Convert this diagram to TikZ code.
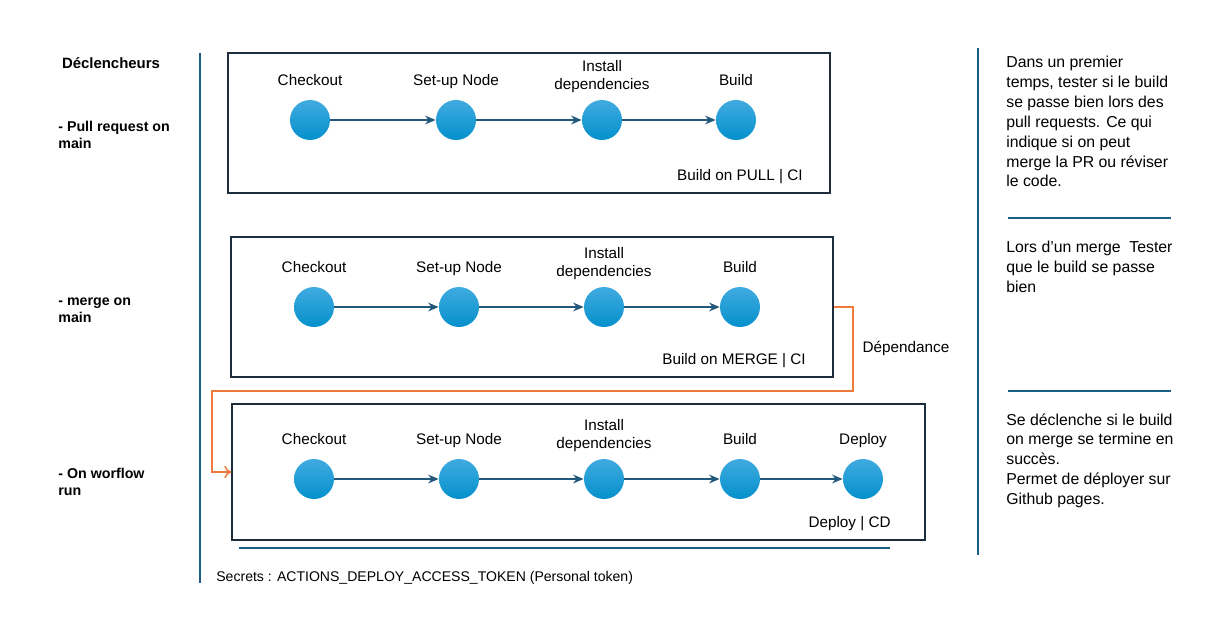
\documentclass[tikz,border=0pt]{standalone}
\usepackage{fontspec}
\setmainfont{Liberation Sans}
\usetikzlibrary{fit,arrows.meta}
\definecolor{lineblue}{HTML}{1B5E84}
\definecolor{arrowblue}{HTML}{22597A}
\definecolor{boxdark}{HTML}{1E2D3B}
\definecolor{dotlight}{HTML}{40ABE0}
\definecolor{dotdark}{HTML}{0590CB}
\definecolor{deporange}{HTML}{EE7B3E}

\begin{document}
\begin{tikzpicture}[x=0.02cm, y=-0.02cm,
  stage/.style={draw=boxdark, line width=0.8pt, inner sep=0pt},
  dot/.style={circle, minimum size=0.8cm, inner sep=0pt, top color=dotlight, bottom color=dotdark},
  lbl/.style={font=\fontsize{8.7}{10.5}\selectfont, inner sep=0pt, text depth=0.25em, align=center, label distance=5.3pt},
  lbltwo/.style={lbl, label distance=3pt},
  tag/.style={font=\fontsize{8.7}{10.5}\selectfont, inner sep=0pt, anchor=east},
  flow/.style={-{Stealth[length=6pt,width=5pt]}, arrowblue, line width=0.8pt},
  sep/.style={lineblue, line width=1.1pt},
  trig/.style={font=\bfseries\fontsize{8.1}{9.8}\selectfont, inner sep=0pt, align=left, anchor=north west},
  note/.style={font=\fontsize{9}{11.3}\selectfont, inner sep=0pt, align=left, anchor=north west}]

  \useasboundingbox (0,0) rectangle (1219,629);

  % Separators
  \draw[sep] (200,53) -- (200,583);
  \draw[sep] (978,48) -- (978,555);
  \draw[sep] (1008,218) -- (1171,218);
  \draw[sep] (1008,391) -- (1171,391);
  \draw[sep] (239,548) -- (890,548);

  % Triggers
  \node[font=\bfseries\fontsize{8.5}{9.8}\selectfont, inner sep=0pt] (trighead) at (111,63) {Déclencheurs};
  \node[trig] (trigpull) at (58,121) {- Pull request on\\main};
  \node[trig] (trigmerge) at (58,297) {- merge on\\main};
  \node[trig] (trigrun) at (58,468) {- On worflow\\run};

  % Workflow boxes
  \node[stage, fit={(228,53) (830,193)}] (pull) {};
  \node[stage, fit={(231,237) (833,377)}] (merge) {};
  \node[stage, fit={(232,404) (925,540)}] (deploy) {};

  % Steps of the pull workflow
  \node[dot, label={[lbl]above:Checkout}] (p1) at (310,120) {};
  \node[dot, label={[lbl]above:Set-up Node}] (p2) at (456,120) {};
  \node[dot, label={[lbltwo]above:Install\\dependencies}] (p3) at (602,120) {};
  \node[dot, label={[lbl]above:Build}] (p4) at (736,120) {};
  \node[tag] (pulltag) at (803,177) {Build on PULL | CI};

  % Steps of the merge workflow
  \node[dot, label={[lbl]above:Checkout}] (m1) at (314,307) {};
  \node[dot, label={[lbl]above:Set-up Node}] (m2) at (459,307) {};
  \node[dot, label={[lbltwo]above:Install\\dependencies}] (m3) at (604,307) {};
  \node[dot, label={[lbl]above:Build}] (m4) at (740,307) {};
  \node[tag] (mergetag) at (806,361) {Build on MERGE | CI};

  % Steps of the deploy workflow
  \node[dot, label={[lbl]above:Checkout}] (d1) at (314,479) {};
  \node[dot, label={[lbl]above:Set-up Node}] (d2) at (459,479) {};
  \node[dot, label={[lbltwo]above:Install\\dependencies}] (d3) at (604,479) {};
  \node[dot, label={[lbl]above:Build}] (d4) at (740,479) {};
  \node[dot, label={[lbl]above:Deploy}] (d5) at (863,479) {};
  \node[tag] (deploytag) at (891,524) {Deploy | CD};

  % Edges between steps
  \draw[flow] (p1) -- (p2);
  \draw[flow] (p2) -- (p3);
  \draw[flow] (p3) -- (p4);
  \draw[flow] (m1) -- (m2);
  \draw[flow] (m2) -- (m3);
  \draw[flow] (m3) -- (m4);
  \draw[flow] (d1) -- (d2);
  \draw[flow] (d2) -- (d3);
  \draw[flow] (d3) -- (d4);
  \draw[flow] (d4) -- (d5);

  % Dependency between merge and deploy
  \coordinate (bendr) at (853,391);
  \coordinate (bendl) at (212,391);
  \draw[deporange, line width=0.9pt, -{To[length=4pt,width=7pt]}] (merge.east) -| (bendr) -- (bendl) |- (deploy.west);
  \node[font=\fontsize{8.7}{10.5}\selectfont, inner sep=0pt] (dep) at (906,348) {Dépendance};

  % Notes
  \node[note] (notepull) at (1006,56) {Dans un premier\\temps, tester si le build\\se passe bien lors des\\pull requests. Ce qui\\indique si on peut\\merge la PR ou réviser\\le code.};
  \node[note] (notemerge) at (1006,241) {Lors d’un merge\ \ Tester\\que le build se passe\\bien};
  \node[note] (notedeploy) at (1006,413) {Se déclenche si le build\\on merge se termine en\\succès.\\Permet de déployer sur\\Github pages.};

  % Secrets
  \node[font=\fontsize{8}{10}\selectfont, inner sep=0pt, anchor=west] (secrets) at (216,578) {Secrets : ACTIONS\_DEPLOY\_ACCESS\_TOKEN (Personal token)};

\end{tikzpicture}
\end{document}
